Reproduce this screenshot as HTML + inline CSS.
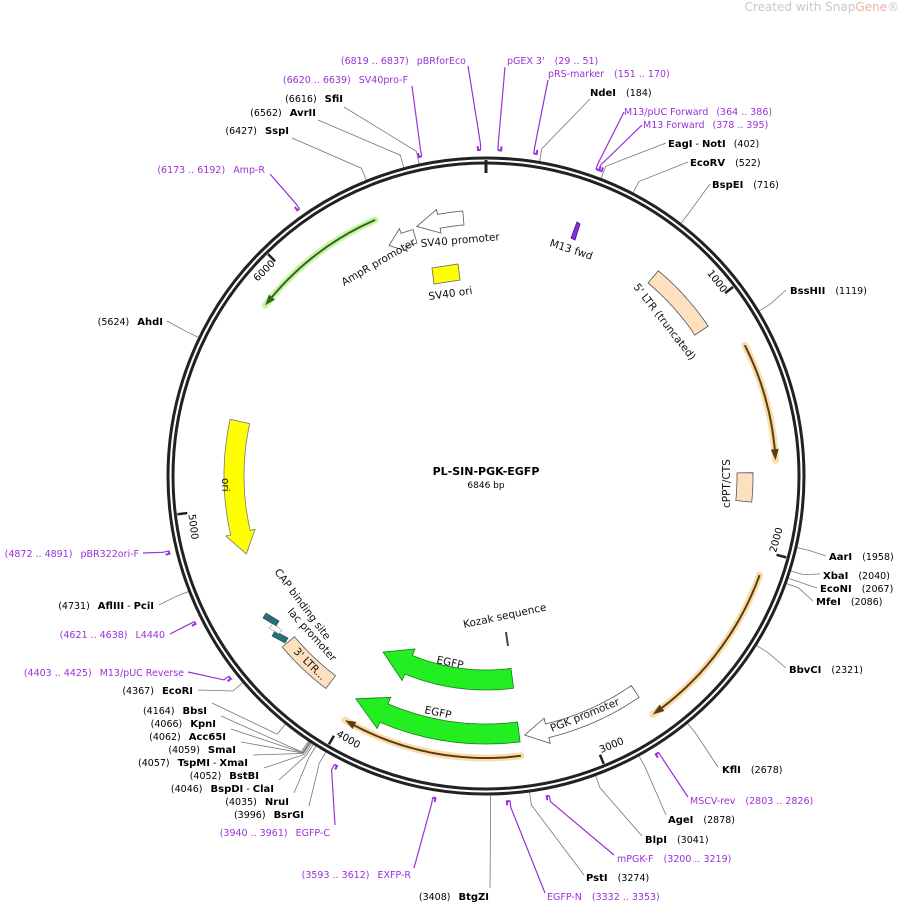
<!DOCTYPE html>
<html><head><meta charset="utf-8"><style>
html,body{margin:0;padding:0;background:#fff;}
svg{display:block;font-family:"DejaVu Sans","Liberation Sans",sans-serif;}
text{font-size:9.5px;}
.b{font-weight:bold;font-size:10px;}
.k{fill:#000;}
.p{fill:#9b30d8;}
.f text{font-size:10.5px;fill:#111;}
</style></head><body>
<svg id="s" width="899" height="904" viewBox="0 0 899 904" xmlns="http://www.w3.org/2000/svg">
<g id="lines"></g>
<g id="feat"></g>
<circle cx="486" cy="476" r="318" fill="none" stroke="#222" stroke-width="3"/>
<circle cx="486" cy="476" r="313" fill="none" stroke="#222" stroke-width="3"/>
<line x1="486" y1="160" x2="486" y2="173" stroke="#222" stroke-width="3"/>
<g id="ticks"></g>

<text x="899" y="11" text-anchor="end" style="font-size:12px;fill:#c8c8c8">Created with Snap<tspan style="fill:#f0b0a8">Gene</tspan>®</text>

<text x="486" y="475" text-anchor="middle" style="font-size:11px;font-weight:bold">PL-SIN-PGK-EGFP</text>
<text x="486" y="488" text-anchor="middle" style="font-size:9px">6846 bp</text>

<g class="k">
<text x="507" y="64" class="p">pGEX 3'<tspan dx="10">(29 .. 51)</tspan></text>
<text x="548" y="77" class="p">pRS-marker<tspan dx="10">(151 .. 170)</tspan></text>
<text x="590" y="96"><tspan class="b">NdeI</tspan><tspan dx="10">(184)</tspan></text>
<text x="624" y="115" class="p">M13/pUC Forward<tspan dx="8">(364 .. 386)</tspan></text>
<text x="643" y="128" class="p">M13 Forward<tspan dx="8">(378 .. 395)</tspan></text>
<text x="668" y="147"><tspan class="b">EagI</tspan> - <tspan class="b">NotI</tspan><tspan dx="8">(402)</tspan></text>
<text x="690" y="166"><tspan class="b">EcoRV</tspan><tspan dx="10">(522)</tspan></text>
<text x="712" y="188"><tspan class="b">BspEI</tspan><tspan dx="10">(716)</tspan></text>
<text x="790" y="294"><tspan class="b">BssHII</tspan><tspan dx="10">(1119)</tspan></text>
<text x="829" y="560"><tspan class="b">AarI</tspan><tspan dx="10">(1958)</tspan></text>
<text x="823" y="579"><tspan class="b">XbaI</tspan><tspan dx="10">(2040)</tspan></text>
<text x="820" y="592"><tspan class="b">EcoNI</tspan><tspan dx="10">(2067)</tspan></text>
<text x="816" y="605"><tspan class="b">MfeI</tspan><tspan dx="10">(2086)</tspan></text>
<text x="789" y="673"><tspan class="b">BbvCI</tspan><tspan dx="10">(2321)</tspan></text>
<text x="722" y="773"><tspan class="b">KflI</tspan><tspan dx="10">(2678)</tspan></text>
<text x="690" y="804" class="p">MSCV-rev<tspan dx="10">(2803 .. 2826)</tspan></text>
<text x="668" y="823"><tspan class="b">AgeI</tspan><tspan dx="10">(2878)</tspan></text>
<text x="645" y="843"><tspan class="b">BlpI</tspan><tspan dx="10">(3041)</tspan></text>
<text x="617" y="862" class="p">mPGK-F<tspan dx="10">(3200 .. 3219)</tspan></text>
<text x="586" y="881"><tspan class="b">PstI</tspan><tspan dx="10">(3274)</tspan></text>
<text x="547" y="900" class="p">EGFP-N<tspan dx="10">(3332 .. 3353)</tspan></text>
</g>
<g class="k" text-anchor="end">
<text x="489" y="900">(3408)<tspan dx="8" class="b">BtgZI</tspan></text>
<text x="411" y="878" class="p">(3593 .. 3612)<tspan dx="8">EXFP-R</tspan></text>
<text x="330" y="836" class="p">(3940 .. 3961)<tspan dx="8">EGFP-C</tspan></text>
<text x="304" y="818">(3996)<tspan dx="8" class="b">BsrGI</tspan></text>
<text x="289" y="805">(4035)<tspan dx="8" class="b">NruI</tspan></text>
<text x="274" y="792">(4046)<tspan dx="8" class="b">BspDI</tspan> - <tspan class="b">ClaI</tspan></text>
<text x="259" y="779">(4052)<tspan dx="8" class="b">BstBI</tspan></text>
<text x="248" y="766">(4057)<tspan dx="8" class="b">TspMI</tspan> - <tspan class="b">XmaI</tspan></text>
<text x="236" y="753">(4059)<tspan dx="8" class="b">SmaI</tspan></text>
<text x="226" y="740">(4062)<tspan dx="8" class="b">Acc65I</tspan></text>
<text x="216" y="727">(4066)<tspan dx="8" class="b">KpnI</tspan></text>
<text x="207" y="714">(4164)<tspan dx="8" class="b">BbsI</tspan></text>
<text x="193" y="694">(4367)<tspan dx="8" class="b">EcoRI</tspan></text>
<text x="184" y="676" class="p">(4403 .. 4425)<tspan dx="8">M13/pUC Reverse</tspan></text>
<text x="165" y="638" class="p">(4621 .. 4638)<tspan dx="8">L4440</tspan></text>
<text x="154" y="609">(4731)<tspan dx="8" class="b">AflIII</tspan> - <tspan class="b">PciI</tspan></text>
<text x="139" y="557" class="p">(4872 .. 4891)<tspan dx="8">pBR322ori-F</tspan></text>
<text x="163" y="325">(5624)<tspan dx="8" class="b">AhdI</tspan></text>
<text x="265" y="173" class="p">(6173 .. 6192)<tspan dx="8">Amp-R</tspan></text>
<text x="289" y="134">(6427)<tspan dx="8" class="b">SspI</tspan></text>
<text x="316" y="116">(6562)<tspan dx="8" class="b">AvrII</tspan></text>
<text x="343" y="102">(6616)<tspan dx="8" class="b">SfiI</tspan></text>
<text x="408" y="83" class="p">(6620 .. 6639)<tspan dx="8">SV40pro-F</tspan></text>
<text x="466" y="64" class="p">(6819 .. 6837)<tspan dx="8">pBRforEco</tspan></text>
</g>

<g class="f">
<text transform="translate(421,247) rotate(-5)">SV40 promoter</text>
<text transform="translate(344,286) rotate(-30)">AmpR promoter</text>
<text transform="translate(429,300) rotate(-8)">SV40 ori</text>
<text transform="translate(549,246) rotate(18)">M13 fwd</text>
<text transform="translate(633,287) rotate(52)">5' LTR (truncated)</text>
<text transform="translate(730,508) rotate(-90)">cPPT/CTS</text>
<text transform="translate(222,478) rotate(90)">ori</text>
<text transform="translate(274,572) rotate(53)">CAP binding site</text>
<text transform="translate(287,612) rotate(48)">lac promoter</text>
<text transform="translate(293,652) rotate(45)">3' LTR...</text>
<text transform="translate(464,628) rotate(-12)">Kozak sequence</text>
<text transform="translate(436,663) rotate(12)">EGFP</text>
<text transform="translate(424,713) rotate(12)">EGFP</text>
<text transform="translate(552,732) rotate(-22)">PGK promoter</text>
</g>
</svg>
<script>
const CX=486,CY=476,N=6846,NS="http://www.w3.org/2000/svg";
function A(bp){return bp/N*360}
function P(a,r){const t=a*Math.PI/180;return [CX+r*Math.sin(t),CY-r*Math.cos(t)]}
function el(g,tag,at){const e=document.createElementNS(NS,tag);for(const k in at)e.setAttribute(k,at[k]);document.getElementById(g).appendChild(e);return e}
function pts(a){return a.map(p=>p[0].toFixed(1)+","+p[1].toFixed(1)).join(" ")}
function band(s,e,r,w,hl,ext,fill,stroke){
 const d=Math.sign(e-s),ab=hl?e-d*hl:e,n=40,p=[];
 for(let i=0;i<=n;i++)p.push(P(s+(ab-s)*i/n,r+w/2));
 if(hl){p.push(P(ab,r+w/2+ext));p.push(P(e,r));p.push(P(ab,r-w/2-ext));}
 for(let i=n;i>=0;i--)p.push(P(s+(ab-s)*i/n,r-w/2));
 el("feat","polygon",{points:pts(p),fill:fill,stroke:stroke,"stroke-width":0.8});
}
function arcPts(s,e,r){const p=[];for(let i=0;i<=40;i++)p.push(P(s+(e-s)*i/40,r));return p}
function thin(s,e,r,glow,col){
 el("feat","polyline",{points:pts(arcPts(s,e,r)),fill:"none",stroke:glow,"stroke-width":7,"stroke-opacity":0.7,"stroke-linecap":"round"});
 const d=Math.sign(e-s);
 el("feat","polyline",{points:pts(arcPts(s,e-d*1.5,r)),fill:"none",stroke:col,"stroke-width":2});
 el("feat","polygon",{points:pts([P(e-d*2.2,r+4),P(e,r),P(e-d*2.2,r-4)]),fill:col});
}
thin(336.6,307.7,279,"#b6ec8a","#2f6a1a");
thin(63.2,86.9,290,"#f6cf86","#5c3c10");
thin(109.9,145,291,"#f6cf86","#5c3c10");
thin(172.9,210,282,"#f6cf86","#5c3c10");
band(282.5,252,252,20,5,5,"#ffff00","#777");
band(172.7,210.3,258,20,7,7,"#22ee22","#1a7a1a");
band(172.6,210.3,204,20,8,7,"#22ee22","#1a7a1a");
band(145.3,171.5,262,14,5,6,"#fff","#555");
band(-5,-15.5,259,14,5,5,"#fff","#555");
band(-16.5,-22.8,250,14,3.5,5,"#fff","#555");
band(40,56,260,16,0,0,"#fde0c0","#555");
band(89.3,95.6,259,16,0,0,"#fde0c0","#555");
band(217,230,258,16,0,0,"#fde0c0","#555");
el("feat","polygon",{points:"263,618 266,613 279,621 276,626",fill:"#2a6f7a",stroke:"#244","stroke-width":0.6});
el("feat","polygon",{points:"272,636 275,631 288,638 285,643",fill:"#2a6f7a",stroke:"#244","stroke-width":0.6});
el("feat","polygon",{points:"269,628 273,624 282,630 279,634",fill:"#fff",stroke:"#666","stroke-width":0.6,"stroke-dasharray":"1.5,1"});
el("feat","polygon",{points:"432,268 458,264 460,280 434,284",fill:"#ffff00",stroke:"#666","stroke-width":0.8});
el("feat","polygon",{points:"577,222 580,224 575,240 571,238",fill:"#8a2be2",stroke:"#4a1080","stroke-width":0.8});
el("feat","line",{x1:506,y1:632,x2:508,y2:646,stroke:"#444","stroke-width":2});
[1000,2000,3000,4000,5000,6000].forEach(bp=>{
 const a=A(bp),p1=P(a,311),p2=P(a,301);
 el("ticks","line",{x1:p1[0],y1:p1[1],x2:p2[0],y2:p2[1],stroke:"#222","stroke-width":2.5});
 const bottom=a>90&&a<270;const rot=bottom?a-180:a;
 const q=P(a-0.3,bottom?300:305);
 const t=el("ticks","text",{transform:`translate(${q[0].toFixed(1)},${q[1].toFixed(1)}) rotate(${rot.toFixed(1)})`,"text-anchor":bottom?"start":"end","dominant-baseline":bottom?"auto":"hanging",style:"font-size:10px"});
 t.textContent=String(bp);
});
const L=[
[40,505,67,1,51],[160,548,80,1,170],[184,590,99,0],[375,624,112,1,386],[386,642,125,1,395],[402,666,143,0],[522,688,162,0],[716,710,184,0],[1119,786,290,0],
[1958,826,556,0],[2040,820,574,0],[2067,817,588,0],[2086,813,601,0],[2321,786,668,0],[2678,718,767,0],[2815,688,797,1,2826],[2878,666,815,0],[3041,642,836,0],[3210,614,855,1,3219],[3274,584,875,0],[3342,545,893,1,3353],
[3408,490,888,0],[3602,414,868,1,3593],[3950,335,825,1,3940],[3996,309,806,0],[4035,294,793,0],[4046,279,780,0],[4052,264,768,0],[4057,253,755,0],[4059,241,742,0],[4062,231,729,0],[4066,221,716,0],[4164,212,703,0],[4367,198,690,0],[4414,188,672,1,4403],[4630,170,634,1,4621],[4731,159,605,0],[4882,143,553,1,4872],[5624,167,321,0],[6182,270,174,1,6173],[6427,292,138,0],[6562,318,120,0],[6616,344,107,0],[6630,412,86,1,6620],[6828,468,66,1,6819]];
L.forEach(l=>{
 const a=A(l[0]);const c=l[3]?"#9b30d8":"#777";const rr=l[3]?326:319;
 const p0=P(a,rr),p1=P(a,332);
 el("lines","polyline",{points:pts([p0,p1,[l[1],l[2]]]),fill:"none",stroke:c,"stroke-width":l[3]?1.2:0.8});
 if(l[3]){const e=A(l[4]);el("lines","polyline",{points:pts([P(e,330),P(e,326),P(a,326)]),fill:"none",stroke:c,"stroke-width":2});}
});
</script>
</body></html>
